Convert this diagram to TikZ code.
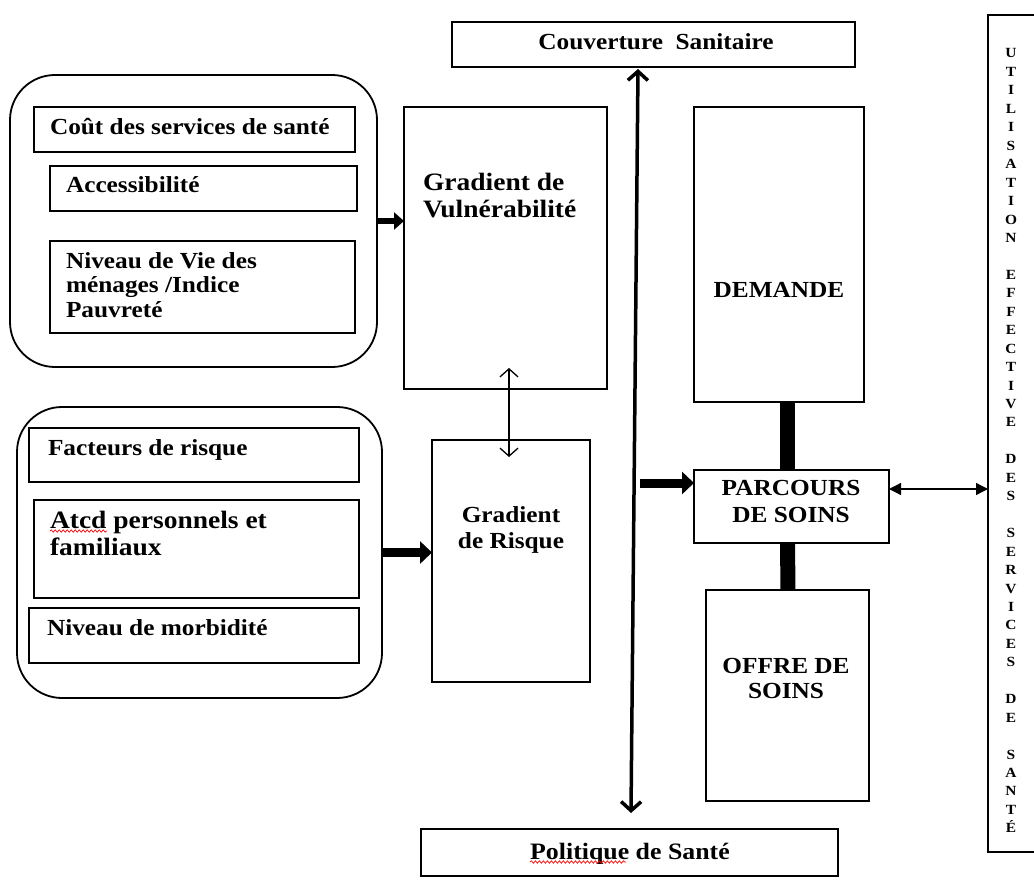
\documentclass[tikz,border=0pt]{standalone}
\usepackage{fontspec}
\setmainfont{Liberation Serif}[FakeStretch=1.1]
\usetikzlibrary{arrows.meta,calc,fit,decorations.pathmorphing}
\newcommand\fsz[2]{\fontsize{#1}{#2}\selectfont\bfseries}
\newcommand\llines[1]{\vtop{\halign{##\hfil\cr#1\crcr}}}
\newcommand\clines[1]{\vtop{\halign{\hfil##\hfil\cr#1\crcr}}}
\begin{document}
\begin{tikzpicture}[x=1pt,y=-1pt,
  box/.style={draw, line width=1.8pt, inner sep=0pt, outer sep=0pt},
  grp/.style={draw, line width=1.8pt, inner sep=0pt, outer sep=0pt, rounded corners=45pt},
  txt/.style={inner sep=0pt, outer sep=0pt, anchor=base west, font=\fsz{23}{24.5}},
  ctxt/.style={inner sep=0pt, outer sep=0pt, anchor=base, font=\fsz{23}{24.5}},
  bigarr/.style={line width=6pt, -{Triangle[length=10pt,width=17pt]}},
  bigarrb/.style={line width=9pt, -{Triangle[length=12pt,width=22pt]}},
  longarr/.style={line width=3.5pt, {Straight Barb[length=9pt,width=20pt]}-{Straight Barb[length=9pt,width=20pt]}},
  thinarr/.style={line width=1.3pt, {Straight Barb[length=8pt,width=18pt]}-{Straight Barb[length=8pt,width=18pt]}},
  rarr/.style={line width=1.3pt, {Triangle[length=12pt,width=12pt]}-{Triangle[length=12pt,width=12pt]}},
  linkbar/.style={line width=15pt},
  wavy/.style={draw=red, line width=0.7pt, decorate, decoration={snake, amplitude=1.2pt, segment length=4pt}}
]
\useasboundingbox (0,0) rectangle (1034,880);
\fill[white] (0,0) rectangle (1034,880);
\clip (0,0) rectangle (1034,880);

% top-left group
\node[grp, fit={(10,75) (377,367)}] (grp1) {};
\node[box, fit={(34,107) (355,152)}] (c1) {};
\node[box, fit={(50,166) (357,211)}] (c2) {};
\node[box, fit={(50,241) (355,333)}] (c3) {};
\node[txt] (tcout) at (50,135) {Coût des services de santé};
\node[txt] (tacc) at (66,193) {Accessibilité};
\node[txt] (tniv) at (66,268) {\llines{Niveau de Vie des\cr ménages /Indice\cr Pauvreté}};

% gradient de vulnerabilite
\node[box, fit={(404,107) (607,389)}] (gv) {};
\node[txt, font=\fsz{25}{27}] (tgv) at (423,190) {\llines{Gradient de\cr Vulnérabilité}};

% couverture
\node[box, fit={(452,22) (855,67)}] (cs) {};
\node[ctxt] (tcs) at (656,50) {Couverture~ Sanitaire};

% bottom-left group
\node[grp, fit={(17,407) (382,698)}] (grp2) {};
\node[box, fit={(29,428) (359,482)}] (r1) {};
\node[box, fit={(34,500) (359,598)}] (r2) {};
\node[box, fit={(29,608) (359,663)}] (r3) {};
\node[txt] (tfac) at (48,455) {Facteurs de risque};
\node[txt, font=\fsz{25}{27}] (tatcd) at (50,528) {\llines{Atcd personnels et\cr familiaux}};
\node[txt] (tmorb) at (47,635) {Niveau de morbidité};
\draw[wavy] ([yshift=-3pt]tatcd.base west) -- ++(57,0);

% gradient de risque
\node[box, fit={(432,440) (590,682)}] (gr) {};
\node[ctxt, font=\fsz{23}{26.5}] (tgr) at (511,522) {\clines{Gradient\cr de Risque}};

% demande / parcours / offre
\node[box, fit={(694,107) (864,402)}] (dem) {};
\node[ctxt] (tdem) at (779,297) {DEMANDE};
\node[box, fit={(694,470) (889,543)}] (par) {};
\node[ctxt, font=\fsz{23}{27}] (tpar) at (791,495) {\clines{PARCOURS\cr DE SOINS}};
\node[box, fit={(706,590) (869,801)}] (off) {};
\node[ctxt, font=\fsz{23}{25}] (toff) at (786,673) {\clines{OFFRE DE\cr SOINS}};

% politique
\node[box, fit={(421,829) (838,876)}] (pol) {};
\node[ctxt, font=\fsz{23.5}{25}] (tpol) at (630,859) {Politique de Santé};
\draw[wavy] ([yshift=-3pt]tpol.base west) -- ++(96,0);

% utilisation effective
\node[box, fit={(988,15) (1045,852)}] (util) {};
\node[ctxt, font=\fsz{14}{18.45}] (tutil) at (1011,58) {\clines{U\cr T\cr I\cr L\cr I\cr S\cr A\cr T\cr I\cr O\cr N\cr \cr E\cr F\cr F\cr E\cr C\cr T\cr I\cr V\cr E\cr \cr D\cr E\cr S\cr \cr S\cr E\cr R\cr V\cr I\cr C\cr E\cr S\cr \cr D\cr E\cr \cr S\cr A\cr N\cr T\cr É}};

% connectors
\draw[bigarr] (grp1.east) -- (grp1.east -| gv.west);
\draw[bigarrb] (grp2.east) -- (grp2.east -| gr.west);
\draw[thinarr] ([shift={(3.5,-21)}]gv.south) -- ([shift={(-2,17)}]gr.north);
\draw[longarr] ([shift={(-15.5,2)}]cs.south) -- ([shift={(1.5,-16)}]pol.north);
\coordinate (pin) at (640,483);
\draw[bigarrb] (pin) -- (pin -| par.west);
\draw[linkbar] ([xshift=8.5pt]dem.south) -- ([xshift=-4pt]par.north);
\draw[linkbar] ([xshift=-4pt]par.south) -- ([xshift=0.5pt]off.north);
\draw[rarr] ([yshift=17.5pt]par.east) -- ([yshift=17.5pt]par.east -| util.west);
\end{tikzpicture}
\end{document}
